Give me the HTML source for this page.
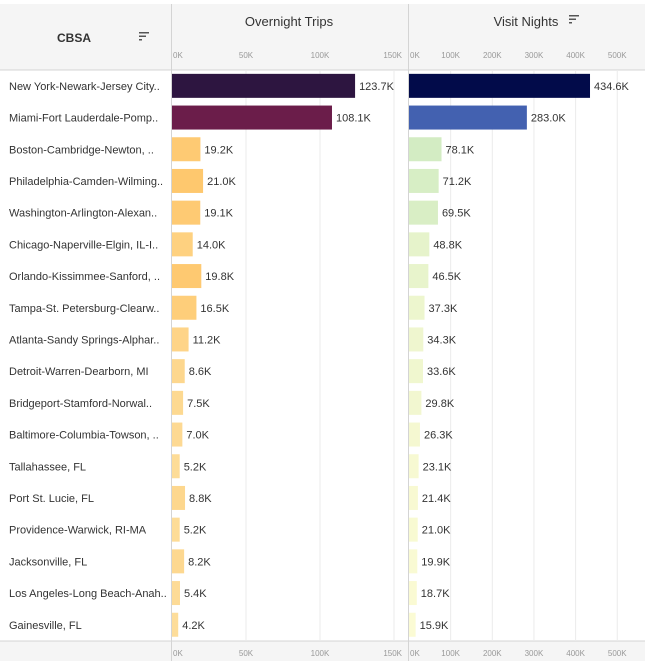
<!DOCTYPE html>
<html><head><meta charset="utf-8"><style>
body{margin:0;background:#fff;font-family:"Liberation Sans",sans-serif;}
svg text{font-family:"Liberation Sans",sans-serif;}
</style></head><body>
<svg id="c" width="645" height="661" xmlns="http://www.w3.org/2000/svg"></svg>
<script>
const cbsa=["New York-Newark-Jersey City..","Miami-Fort Lauderdale-Pomp..","Boston-Cambridge-Newton, ..","Philadelphia-Camden-Wilming..","Washington-Arlington-Alexan..","Chicago-Naperville-Elgin, IL-I..","Orlando-Kissimmee-Sanford, ..","Tampa-St. Petersburg-Clearw..","Atlanta-Sandy Springs-Alphar..","Detroit-Warren-Dearborn, MI","Bridgeport-Stamford-Norwal..","Baltimore-Columbia-Towson, ..","Tallahassee, FL","Port St. Lucie, FL","Providence-Warwick, RI-MA","Jacksonville, FL","Los Angeles-Long Beach-Anah..","Gainesville, FL"];
const trips=[123.7,108.1,19.2,21.0,19.1,14.0,19.8,16.5,11.2,8.6,7.5,7.0,5.2,8.8,5.2,8.2,5.4,4.2];
const nights=[434.6,283.0,78.1,71.2,69.5,48.8,46.5,37.3,34.3,33.6,29.8,26.3,23.1,21.4,21.0,19.9,18.7,15.9];
const tripTicks=[0,50,100,150];
const nightTicks=[0,100,200,300,400,500];
const NS="http://www.w3.org/2000/svg";
const svg=document.getElementById('c');
function el(t,a,p){const e=document.createElementNS(NS,t);for(const k in a)e.setAttribute(k,a[k]);(p||svg).appendChild(e);return e;}
const top0=70,rowH=31.7,bot=641;
const xT=v=>172+v*1.48, xN=v=>409+v*0.4165;
// header
let h=el('rect',{x:0,y:4,width:645,height:66,fill:'#f5f5f5'});

let fb=el('rect',{x:0,y:641,width:645,height:20,fill:'#f5f5f5'});

el('line',{x1:0,y1:70,x2:645,y2:70,stroke:'#d4d4d4'});
el('line',{x1:0,y1:641,x2:645,y2:641,stroke:'#d4d4d4'});
el('line',{x1:171.5,y1:4,x2:171.5,y2:661,stroke:'#d4d4d4'});
el('line',{x1:408.5,y1:4,x2:408.5,y2:661,stroke:'#d4d4d4'});
function txt(s,a,name,inter){const t=el('text',a);t.textContent=s;return t;}
txt('CBSA',{x:57,y:42,'font-size':12,'font-weight':'bold',fill:'#333'},'cbsa-header',true);
function sortIcon(x,y,name){const g=el('g',{});
el('rect',{x:x,y:y,width:10,height:1.5,fill:'#555'},g);el('rect',{x:x,y:y+3.5,width:7,height:1.5,fill:'#555'},g);el('rect',{x:x,y:y+7,width:3,height:1.5,fill:'#555'},g);}
sortIcon(139,32,'cbsa-sort-icon');
txt('Overnight Trips',{x:289,y:26,'font-size':13,fill:'#333','text-anchor':'middle'},'overnight-trips-title',false);
txt('Visit Nights',{x:526,y:26,'font-size':13,fill:'#333','text-anchor':'middle'},'visit-nights-title',false);
sortIcon(569,15,'visit-nights-sort-icon');
// gridlines & ticks
tripTicks.forEach((v,i)=>{const x=xT(v);
 if(v>0){const g=el('line',{x1:x,y1:70,x2:x,y2:641,stroke:'#ebebeb'});}
 const a={'font-size':8,fill:'#999','text-anchor':i==0?'start':(i==tripTicks.length-1?'end':'middle')};
 txt(v+'K',Object.assign({x:i==0?x+1:(i==tripTicks.length-1?x+8:x),y:58},a),'trips-tick-top',false);
 txt(v+'K',Object.assign({x:i==0?x+1:(i==tripTicks.length-1?x+8:x),y:656},a),'trips-tick-bottom',false);});
nightTicks.forEach((v,i)=>{const x=xN(v);
 if(v>0){const g=el('line',{x1:x,y1:70,x2:x,y2:641,stroke:'#ebebeb'});}
 const a={'font-size':8,fill:'#999','text-anchor':i==0?'start':'middle'};
 txt(v+'K',Object.assign({x:i==0?x+1:x,y:58},a),'nights-tick-top',false);
 txt(v+'K',Object.assign({x:i==0?x+1:x,y:656},a),'nights-tick-bottom',false);});
function tripColor(v){if(v>115)return '#2d1540';if(v>60)return '#6b1d4a';const t=Math.min(1,v/21);
 const c0=[253,226,165],c1=[254,200,110];return 'rgb('+c0.map((c,i)=>Math.round(c+(c1[i]-c)*t)).join(',')+')';}
function nightColor(v){if(v>350)return '#020b4a';if(v>150)return '#4361b0';const t=Math.min(1,(v-15)/63);
 const c0=[252,251,212],c1=[211,236,195];return 'rgb('+c0.map((c,i)=>Math.round(c+(c1[i]-c)*t)).join(',')+')';}
cbsa.forEach((n,i)=>{const cy=top0+rowH*(i+0.5);
 txt(n,{x:9,y:cy+4,'font-size':11,fill:'#333'},'cbsa-label',true);
 let r=el('rect',{x:172,y:cy-12,width:xT(trips[i])-172,height:24,fill:tripColor(trips[i])});
 
 txt(trips[i].toFixed(1)+'K',{x:xT(trips[i])+4,y:cy+4,'font-size':11,fill:'#333'},'trips-value-label',false);
 let r2=el('rect',{x:409,y:cy-12,width:xN(nights[i])-409,height:24,fill:nightColor(nights[i])});
 
 txt(nights[i].toFixed(1)+'K',{x:xN(nights[i])+4,y:cy+4,'font-size':11,fill:'#333'},'nights-value-label',false);
});
</script>
</body></html>
